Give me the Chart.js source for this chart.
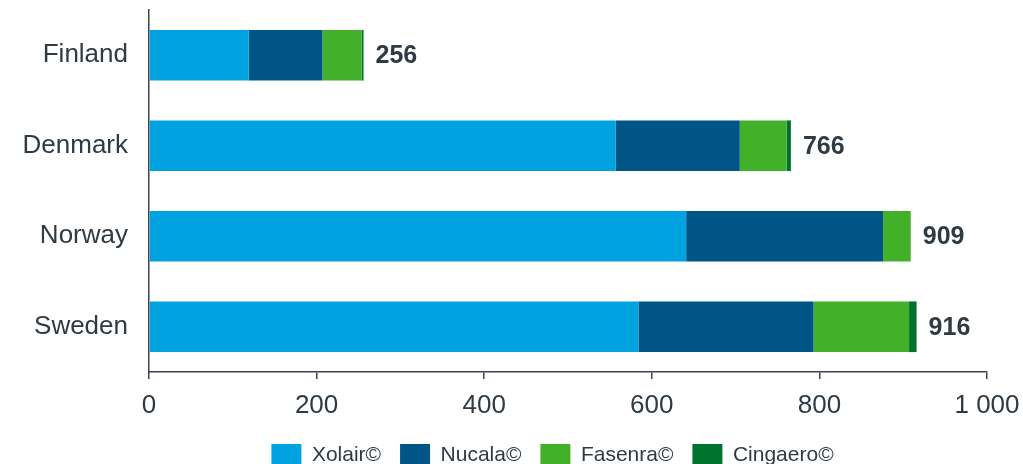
<!DOCTYPE html>
<html>
<head>
<meta charset="utf-8">
<script src="https://cdn.jsdelivr.net/npm/chart.js@4.4.1/dist/chart.umd.min.js"></script>
<style>
  html, body { margin: 0; padding: 0; background: #fff; overflow: hidden; }
  #wrap { width: 1023px; height: 476px; position: relative; }
</style>
</head>
<body>
<div id="wrap"><canvas id="myChart"></canvas></div>
<script>
const countries = ["Finland", "Denmark", "Norway", "Sweden"];
const xolair   = [119, 557, 641, 584];
const nucala   = [88, 148, 235, 209];
const fasenra  = [47, 56, 33, 114];
const cingaero = [2, 5, 0, 9];
const xTicks = [0, 200, 400, 600, 800, 1000];

const ink = "#2e3a44";
const font = "'Liberation Sans', Arial, sans-serif";

// total at the end of each bar
const totalsPlugin = {
  id: "totals",
  afterDatasetsDraw(chart) {
    const ctx = chart.ctx;
    const xs = chart.scales.x;
    const meta = chart.getDatasetMeta(0);
    ctx.save();
    ctx.font = "bold 25px " + font;
    ctx.fillStyle = ink;
    ctx.textAlign = "left";
    ctx.textBaseline = "middle";
    countries.forEach((c, i) => {
      let total = 0;
      chart.data.datasets.forEach(ds => { total += ds.data[i]; });
      ctx.fillText(String(total), xs.getPixelForValue(total) + 12, meta.data[i].y + 1);
    });
    ctx.restore();
  }
};

// legend sits a bit right of the canvas centre in the original
const legendShift = {
  id: "legendShift",
  afterLayout(chart) {
    chart.legend.left += 59;
    chart.legend.right += 59;
  }
};

new Chart("myChart", {
  type: "bar",
  data: {
    labels: countries,
    datasets: [
      {label: "Xolair©",   data: xolair,   backgroundColor: "#00a3e0"},
      {label: "Nucala©",   data: nucala,   backgroundColor: "#005587"},
      {label: "Fasenra©",  data: fasenra,  backgroundColor: "#43b02a"},
      {label: "Cingaero©", data: cingaero, backgroundColor: "#00732e"}
    ]
  },
  options: {
    indexAxis: "y",
    responsive: true,
    maintainAspectRatio: false,
    animation: false,
    datasets: {bar: {categoryPercentage: 1, barPercentage: 0.56, borderWidth: 0}},
    layout: {padding: {left: 0, right: 36, top: 10, bottom: 0}},
    scales: {
      x: {
        stacked: true,
        min: 0,
        max: 1000,
        afterBuildTicks(scale) { scale.ticks = xTicks.map(v => ({value: v})); },
        afterFit(scale) {
          scale.paddingLeft = 0;
          scale.paddingRight = 0;
          scale.height -= 7;
        },
        border: {display: true, color: "#3a4550", width: 1.5},
        grid: {display: true, drawOnChartArea: false, drawTicks: true, tickLength: 7, color: "#3a4550", lineWidth: 1.5},
        ticks: {
          padding: 13.5,
          color: ink,
          font: {size: 26, family: font, lineHeight: 1},
          maxRotation: 0,
          callback: v => v >= 1000 ? String(v).replace(/\B(?=(\d{3})+(?!\d))/g, " ") : String(v)
        }
      },
      y: {
        stacked: true,
        afterFit(scale) { scale.width = 149; },
        border: {display: true, color: "#3a4550", width: 1.5},
        grid: {display: true, drawOnChartArea: false, drawTicks: true, tickLength: 21, color: "rgba(0,0,0,0)"},
        ticks: {
          padding: 0,
          color: ink,
          font: {size: 26, family: font, lineHeight: 0.75}
        }
      }
    },
    plugins: {
      legend: {
        position: "bottom",
        labels: {
          boxWidth: 30,
          boxHeight: 22,
          padding: 19,
          color: ink,
          font: {size: 21, family: font}
        }
      },
      tooltip: {enabled: false}
    }
  },
  plugins: [totalsPlugin, legendShift]
});
</script>
</body>
</html>
